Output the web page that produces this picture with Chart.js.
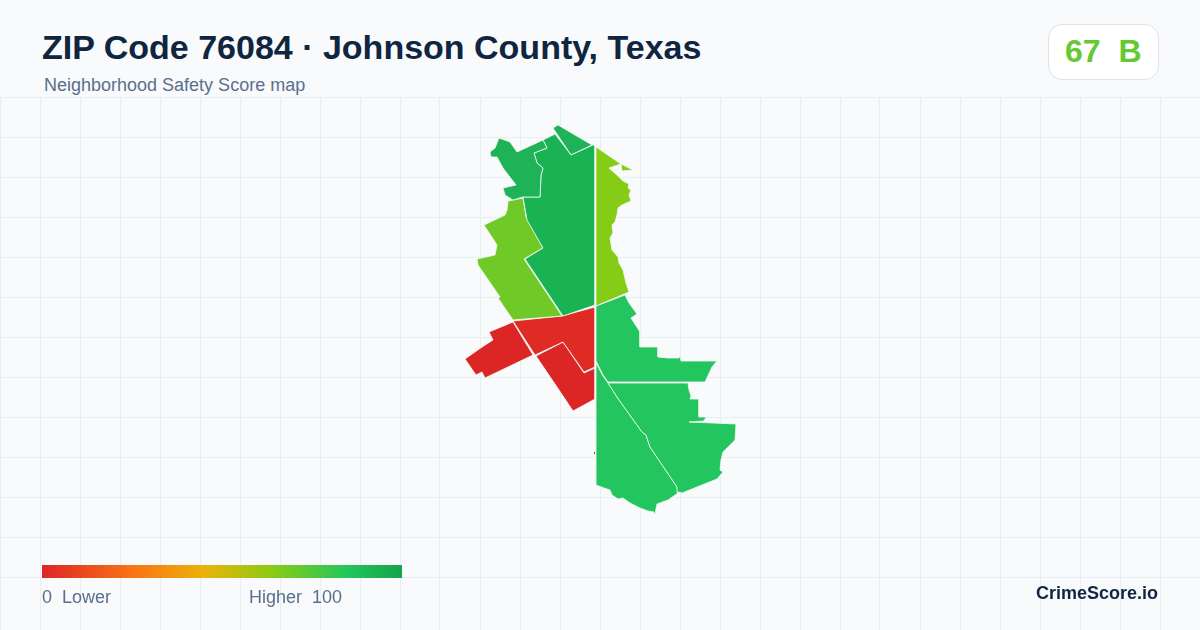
<!DOCTYPE html>
<html>
<head>
<meta charset="utf-8">
<title>ZIP Code 76084</title>
<script src="https://cdn.jsdelivr.net/npm/chart.js@4/dist/chart.umd.min.js"></script>
<style>
  html, body { margin: 0; padding: 0; }
  body { width: 1200px; height: 630px; overflow: hidden; background: #f8fafc; position: relative; font-family: "Liberation Sans", Arial, sans-serif; }
  #plot { position: absolute; left: 0; top: 97px; width: 1200px; height: 533px; }
  .txt { position: absolute; white-space: pre; line-height: 1; }
  #title { left: 42px; top: 30px; font-size: 34px; font-weight: bold; color: #0f2540; }
  #subtitle { left: 44px; top: 76px; font-size: 18px; color: #5a6f8c; }
  #badge { position: absolute; left: 1048px; top: 24px; width: 109px; height: 54px; background: #fff; border: 1px solid #dde3ea; border-radius: 14px; }
  #score { left: 1065px; top: 35px; font-size: 32px; font-weight: bold; color: #65c932; }
  #bar { position: absolute; left: 42px; top: 565px; width: 360px; height: 13px; background: linear-gradient(to right, #dc2626 0%, #f97316 25%, #eab308 45%, #84cc16 65%, #22c55e 85%, #16a34a 100%); }
  #low { left: 42px; top: 588px; font-size: 18px; color: #5a6f8c; }
  #high { left: 249px; top: 588px; font-size: 18px; color: #5a6f8c; }
  #brand { right: 42px; top: 584px; font-size: 18px; font-weight: bold; color: #0f2540; }
</style>
</head>
<body>
<canvas id="plot" width="1200" height="533"></canvas>
<div class="txt" id="title">ZIP Code 76084 · Johnson County, Texas</div>
<div class="txt" id="subtitle">Neighborhood Safety Score map</div>
<div id="badge"></div>
<div class="txt" id="score">67  B</div>
<div id="bar"></div>
<div class="txt" id="low">0  Lower</div>
<div class="txt" id="high">Higher  100</div>
<div class="txt" id="brand">CrimeScore.io</div>
<script>
// Tract outlines, as [x, y] in map units
const northWest = [[499,138],[510,142],[517,152],[543,140],[547,148],[534,153],[537,163],[543,168],[541,175],[540,197],[523,197],[513,200],[505,195],[503,188],[516,185],[503,168],[497,157],[491,157],[490,152],[495,148]];
const center = [[543,140],[555,134],[571,155],[593,145],[595,145],[595,305],[563,316],[525,259],[543,248],[527,220],[523,197],[540,197],[541,175],[543,168],[537,163],[534,153],[547,148]];
const northTip = [[553,128],[558,125],[592,145],[571,155]];
const east = [[596,147],[621,164],[633,170],[622,171],[621,164],[609,168],[618,176],[623,181],[629,184],[628,188],[631,190],[629,195],[631,201],[622,205],[618,208],[617,215],[615,222],[612,225],[613,233],[610,238],[612,250],[618,257],[619,263],[623,270],[626,283],[629,292],[596,306]];
const west = [[508,201],[523,198],[526,217],[543,248],[524,259],[562,316],[513,320],[498,298],[500,297],[478,265],[477,259],[495,255],[497,245],[484,225],[505,215],[507,210]];
const redWest = [[513,322],[533,355],[485,378],[482,372],[476,375],[465,359],[482,347],[493,340],[489,332]];
const redCenter = [[513,321],[562,316],[595,307],[595,367],[584,372],[563,342],[535,355]];
const redSouth = [[536,356],[563,342],[584,373],[595,368],[595,399],[573,411],[557,387]];
const redSpeck = [[594,452],[595,452],[595,454],[594,454]];
const southEastUpper = [[596,306],[625,295],[629,303],[637,314],[631,318],[640,332],[640,347],[658,347],[658,357],[668,358],[679,358],[680,355],[681,361],[717,361],[712,367],[705,382],[608,382],[603,375],[596,361]];
const southEastLower = [[608,383],[688,383],[689,390],[691,396],[690,399],[699,399],[699,417],[706,417],[704,421],[689,422],[713,423],[736,424],[735,440],[723,452],[721,460],[720,470],[723,472],[717,479],[682,493],[678,492],[677,487],[650,447],[646,435],[642,432],[619,400]];
const south = [[596,363],[603,376],[608,383],[619,400],[642,432],[646,435],[650,447],[677,487],[678,493],[668,500],[657,504],[655,514],[654,512],[648,511],[640,508],[630,503],[623,498],[618,499],[612,495],[610,490],[604,488],[596,485]];

const tracts = [northWest, center, northTip, east, west, redWest, redCenter, redSouth, redSpeck, southEastUpper, southEastLower, south];
const tractColors = ['#1eb356', '#1ab354', '#1eb356', '#84cc16', '#6fca27', '#dc2626', '#de2c25', '#dc2626', '#dc2626', '#22c55e', '#22c55e', '#22c55e'];

const plotTop = 97;

new Chart(document.getElementById('plot'), {
  type: 'scatter',
  data: {
    datasets: tracts.map((outline, i) => ({
      data: outline.concat([outline[0]]).map(p => ({ x: p[0], y: p[1] - plotTop })),
      showLine: true,
      fill: 'shape',
      tension: 0,
      pointRadius: 0,
      backgroundColor: tractColors[i],
      borderColor: i === 8 ? tractColors[i] : '#f4f9f6',
      borderWidth: i === 8 ? 0 : 0.8
    }))
  },
  options: {
    responsive: false,
    animation: false,
    layout: { padding: 0 },
    plugins: { legend: { display: false }, tooltip: { enabled: false } },
    scales: {
      x: {
        type: 'linear', min: 0, max: 1200,
        border: { display: false },
        grid: { color: '#e6eff3', lineWidth: 1, drawTicks: false },
        ticks: { display: false, stepSize: 40 }
      },
      y: {
        type: 'linear', min: 0, max: 533, reverse: true,
        border: { display: false },
        grid: { color: '#e6eff3', lineWidth: 1, drawTicks: false },
        ticks: { display: false, stepSize: 40 }
      }
    }
  }
});
</script>
</body>
</html>
